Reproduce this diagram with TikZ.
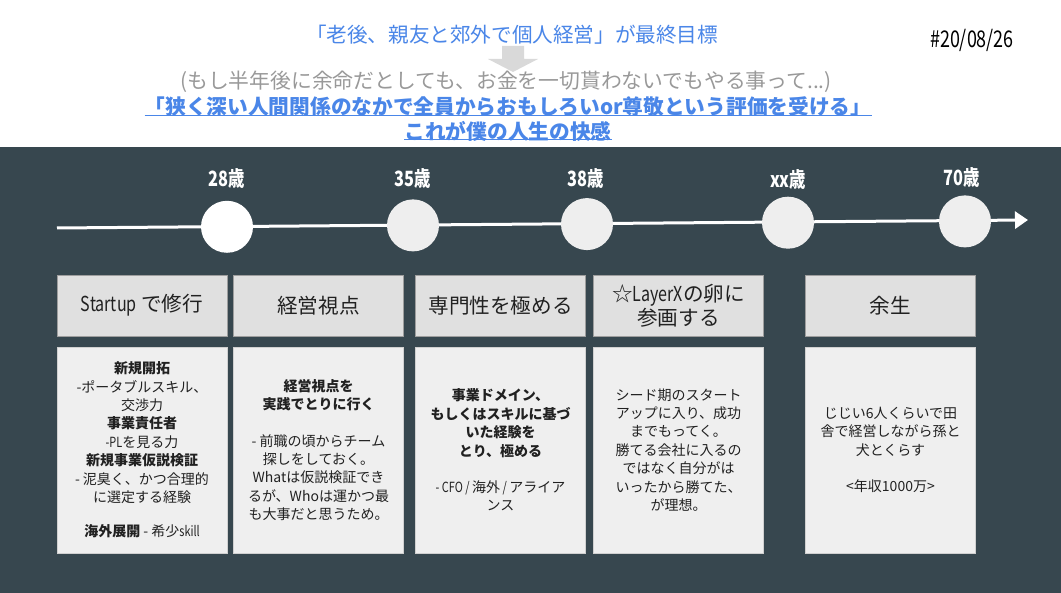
\documentclass[tikz,border=0pt]{standalone}
\usepackage{fontspec}
\setmainfont{Noto Sans CJK JP}
\newfontfamily\cond[FakeStretch=0.78]{Noto Sans CJK JP}
\usetikzlibrary{arrows.meta}
\definecolor{band}{HTML}{37474F}
\definecolor{blueT}{HTML}{4A86E8}
\definecolor{greyT}{HTML}{999999}
\definecolor{arrowgray}{HTML}{D9D9D9}
\definecolor{hdrfill}{HTML}{E0E0E0}
\definecolor{hdrline}{HTML}{9E9E9E}
\definecolor{bodyfill}{HTML}{EFEFEF}
\definecolor{bodyline}{HTML}{D0D0D0}
\definecolor{dot}{HTML}{EEEEEE}
\definecolor{ink}{HTML}{212121}
\tikzset{
  hdr/.style={draw=hdrline, fill=hdrfill, line width=0.8pt, minimum width=170pt, minimum height=61pt, inner sep=2pt, align=center, text=ink, font=\fontsize{20.6}{24}\selectfont},
  body/.style={draw=bodyline, fill=bodyfill, line width=0.6pt, minimum width=170pt, minimum height=206pt, inner sep=2pt, align=center, text=ink, font=\fontsize{14}{18.4}\selectfont},
  age/.style={text=white, font=\cond\bfseries\fontsize{21}{24}\selectfont},
  dotn/.style={circle, fill=dot, minimum size=52pt, inner sep=0pt},
  titleline/.style={inner sep=0pt, text=blueT},
  uline/.style={blueT, line width=1.3pt}
}
\begin{document}
\begin{tikzpicture}[x=1pt,y=-1pt]
\fill[white] (0,0) rectangle (1061,593);
\useasboundingbox (0,0) rectangle (1061,593);
\fill[band] (0,147) rectangle (1061,593);

% header texts
\node[titleline, font=\fontsize{20.6}{24}\selectfont] (goal) at (512,35) {「老後、親友と郊外で個人経営」が最終目標};
\fill[arrowgray] (502,46) -- (524,46) -- (524,59) -- (538,59) -- (513,72) -- (488,59) -- (502,59) -- cycle;
\node[inner sep=0pt, text=greyT, font=\fontsize{20.8}{24}\selectfont] (q) at (506,82) {(もし半年後に余命だとしても、お金を一切貰わないでもやる事って...)};
\node[titleline, font=\bfseries\fontsize{20.7}{24}\selectfont] (t3) at (508,107) {「狭く深い人間関係のなかで全員からおもしろいor尊敬という評価を受ける」};
\node[titleline, font=\bfseries\fontsize{20.7}{24}\selectfont] (t4) at (508,131) {これが僕の人生の快感};
\draw[uline] ([yshift=1.5pt]t3.south west) -- ([yshift=1.5pt]t3.south east);
\draw[uline] ([yshift=1.5pt]t4.south west) -- ([yshift=1.5pt]t4.south east);
\node[font=\cond\fontsize{23}{26}\selectfont, text=black] (date) at (972,40) {\#20/08/26};

% timeline
\coordinate (tstart) at (57,228);
\coordinate (tend) at (1028,220);
\draw[white, line width=3pt, -{Triangle[length=13pt,width=17pt]}] (tstart) -- (tend);
\node[dotn, fill=white] (c1) at (227,226.8) {};
\node[dotn] (c2) at (413,225.4) {};
\node[dotn] (c3) at (587,224.1) {};
\node[dotn] (c4) at (788,222.7) {};
\node[dotn] (c5) at (965,221.4) {};
\node[age] (a1) at (227,179) {28歳};
\node[age] (a2) at (413,179) {35歳};
\node[age] (a3) at (586,179) {38歳};
\node[age] (a4) at (788,180) {xx歳};
\node[age] (a5) at (962,178) {70歳};

% header boxes
\node[hdr] (h1) at (142,305.5) {{\cond Startup} で修行};
\node[hdr] (h2) at (318.5,305.5) {経営視点};
\node[hdr] (h3) at (500.5,305.5) {専門性を極める};
\node[hdr] (h4) at (678.5,305.5) {☆{\cond LayerX}の卵に\\参画する};
\node[hdr] (h5) at (890.5,305.5) {余生};

% body boxes
\node[body] (b1) at (142,450) {\textbf{新規開拓}\\-ポータブルスキル、\\交渉力\\\textbf{事業責任者}\\{\cond -PL}を見る力\\\textbf{新規事業仮説検証}\\- 泥臭く、かつ合理的\\に選定する経験\\[16pt]\textbf{海外展開} - 希少{\cond skill}};
\node[body] (b2) at (318.5,450) {\textbf{経営視点を}\\\textbf{実践でとりに行く}\\[18pt]- 前職の頃からチーム\\探しをしておく。\\Whatは仮説検証でき\\るが、Whoは運かつ最\\も大事だと思うため。};
\node[body] (b3) at (500.5,450) {\textbf{事業ドメイン、}\\\textbf{もしくはスキルに基づ}\\\textbf{いた経験を}\\\textbf{とり、極める}\\[18pt]{\cond - CFO / }海外{\cond{} / }アライア\\ンス};
\node[body] (b4) at (678.5,450) {シード期のスタート\\アップに入り、成功\\までもってく。\\勝てる会社に入るの\\ではなく自分がは\\いったから勝てた、\\が理想。};
\node[body] (b5) at (890.5,450) {じじい6人くらいで田\\舎で経営しながら孫と\\犬とくらす\\[18pt]<年収1000万>};
\end{tikzpicture}
\end{document}
